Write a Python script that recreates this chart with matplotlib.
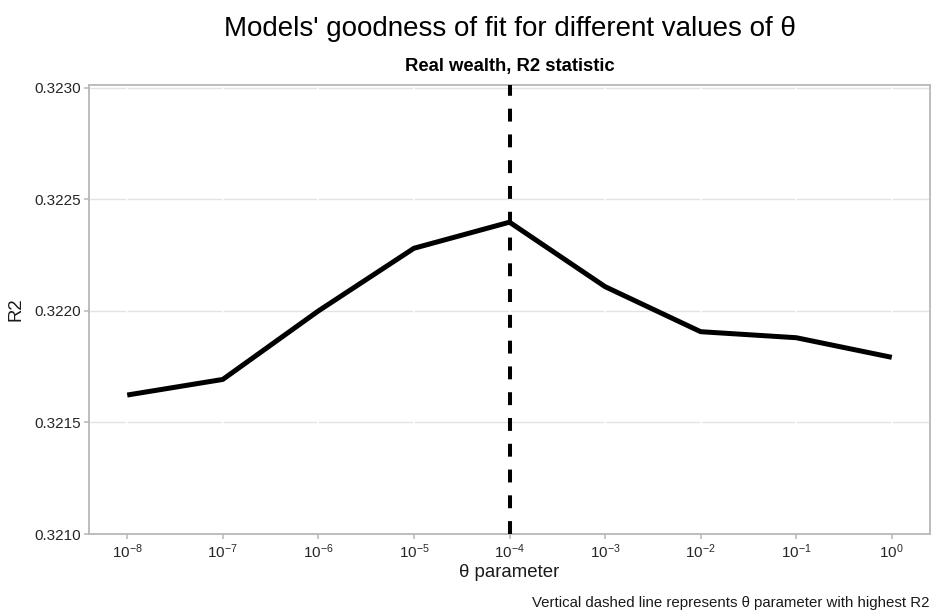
import matplotlib
matplotlib.use("Agg")
import matplotlib.pyplot as plt
import numpy as np

plt.rcParams['font.family'] = ['Liberation Sans', 'DejaVu Sans']
plt.rcParams['mathtext.fontset'] = 'custom'
plt.rcParams['mathtext.rm'] = 'Liberation Sans'
plt.rcParams['mathtext.it'] = 'Liberation Sans:italic'
plt.rcParams['mathtext.bf'] = 'Liberation Sans:bold'

# Data
theta_exponents = [-8, -7, -6, -5, -4, -3, -2, -1, 0]
r2_values = [0.321623, 0.321693, 0.322000, 0.322281, 0.322398,
             0.322109, 0.321907, 0.321880, 0.321792]
y_ticks = [0.3210, 0.3215, 0.3220, 0.3225, 0.3230]
y_tick_labels = ["0.3210", "0.3215", "0.3220", "0.3225", "0.3230"]

theta = [10.0 ** e for e in theta_exponents]
x_tick_labels = [r'$\mathregular{10^{%d}}$' % e for e in theta_exponents]
best = theta[int(np.argmax(r2_values))]

fig = plt.figure(figsize=(9.32, 6.10), dpi=100)
ax = fig.add_axes([89/932, 1-534/610, (930-89)/932, (534-85)/610])

ax.set_xscale('log')
ax.plot(theta, r2_values, color='black', lw=3.6, solid_capstyle='butt', zorder=3)
ax.axvline(best, color='black', lw=2.9, dashes=(3.2, 3.2), zorder=4)

ax.set_xlim(10 ** -8.4, 10 ** 0.4)
ax.set_ylim(0.3210, 0.323013)
ax.set_xticks(theta)
ax.set_xticklabels(x_tick_labels)
ax.xaxis.set_minor_locator(matplotlib.ticker.NullLocator())
ax.set_yticks(y_ticks)
ax.set_yticklabels(y_tick_labels)

# grid: light horizontal lines, white vertical lines on top
for yv in y_ticks:
    ax.axhline(yv, color='#e3e3e3', lw=1.0, zorder=0.3)
for xv in theta:
    ax.axvline(xv, color='white', lw=1.2, zorder=0.4)

for s in ax.spines.values():
    s.set_color('#b8b8b8')
    s.set_linewidth(1.3)

ax.tick_params(axis='both', which='major', color='#b8b8b8', length=3.5, width=1.1,
               labelsize=11, labelcolor='#262626', pad=2.5)

ax.set_xlabel('θ parameter', fontsize=13.4, color='#1a1a1a', labelpad=2)
ax.set_ylabel('R2', fontsize=13.4, color='#1a1a1a', labelpad=7)

fig.text(510/932, 1-36/610, "Models' goodness of fit for different values of θ",
         ha='center', va='baseline', fontsize=20, color='black')
fig.text(510/932, 1-71/610, "Real wealth, R2 statistic",
         ha='center', va='baseline', fontsize=13.3, fontweight='bold', color='black')
fig.text(929/932, 1-603/610, "Vertical dashed line represents θ parameter with highest R2",
         ha='right', va='center', fontsize=10.8, color='#1a1a1a')

fig.savefig('out.png', dpi=100)
